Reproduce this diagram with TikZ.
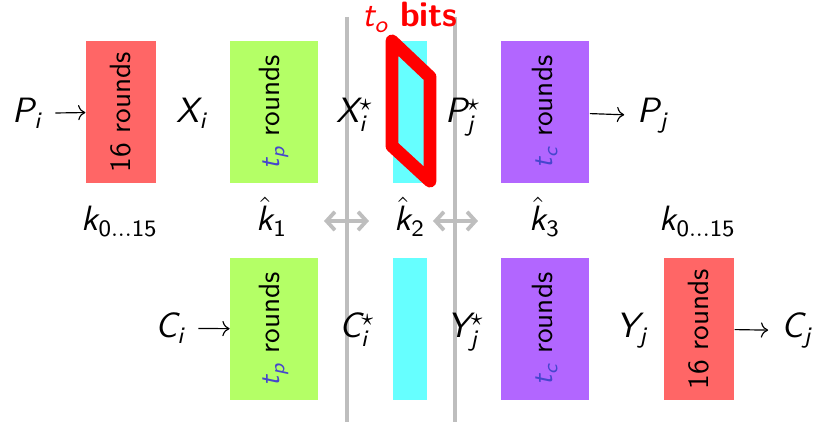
\documentclass[tikz,border=0pt]{standalone}
\usetikzlibrary{arrows.meta}

\DeclareMathAlphabet{\mathsl}{TU}{lmss}{m}{sl}
\DeclareMathAlphabet{\mathss}{TU}{lmss}{m}{n}

\definecolor{roundred}{RGB}{255,102,102}
\definecolor{roundgreen}{RGB}{180,255,102}
\definecolor{roundpurple}{RGB}{178,102,255}
\definecolor{midcyan}{RGB}{102,255,255}
\definecolor{tblue}{RGB}{70,70,205}
\definecolor{wallgray}{RGB}{190,190,190}

\begin{document}
\begin{tikzpicture}[x=0.012cm,y=-0.012cm,font=\sffamily\large,
	rbox/.style={rotate=90,inner sep=0pt,minimum width=1.70cm,minimum height=#1,font=\sffamily},
	lbl/.style={anchor=base,inner sep=4.5pt},
	wallarrow/.style={wallgray,line width=1.3pt,{Straight Barb[length=0.1cm,width=0.22cm]}-{Straight Barb[length=0.1cm,width=0.22cm]}}]
	\useasboundingbox (0,0) rectangle (813,422);

	% the two walls
	\draw[wallgray,line width=1.7pt] (347,17) -- (347,422);
	\draw[wallgray,line width=1.7pt] (455,17) -- (455,422);

	% upper row
	\node[rbox=0.84cm,fill=roundred] (r1) at (121,112) {16 rounds};
	\node[rbox=1.05cm,fill=roundgreen] (g1) at (274,112) {\textcolor{tblue}{$\mathsl{t}_{\mathsl{p}}$} rounds};
	\node[rbox=0.41cm,fill=midcyan] (c1) at (410,112) {};
	\node[rbox=1.06cm,fill=roundpurple] (v1) at (545,112) {\textcolor{tblue}{$\mathsl{t}_{\mathsl{c}}$} rounds};

	\draw[red,line width=4.4pt,line join=round] (392,41) -- (430,77) -- (430,181) -- (392,146) -- cycle;
	\node[anchor=base,inner sep=1pt,red] (bits) at (410,27) {$\mathsl{t}_{\mathsl{o}}$ \textbf{bits}};

	\node[lbl] (pi) at (27,123) {$\mathsl{P}_{\mathsl{i}}$};
	\node[lbl] (xi) at (192,123) {$\mathsl{X}_{\mathsl{i}}$};
	\node[lbl] (xis) at (355,123) {$\mathsl{X}_{\mathsl{i}}^{\star}$};
	\node[lbl] (pjs) at (463,123) {$\mathsl{P}_{\mathsl{j}}^{\star}$};
	\node[lbl] (pj) at (653,123) {$\mathsl{P}_{\mathsl{j}}$};
	\draw[->,thin] (pi) -- (r1);
	\draw[->,thin] (v1) -- (pj);

	% keys
	\node[lbl] (k0) at (120,231) {$\mathsl{k}_{\mathss{0\ldots15}}$};
	\node[lbl] (k1) at (272,231) {$\hat{\mathsl{k}}_{\mathss{1}}$};
	\node[lbl] (k2) at (410,231) {$\hat{\mathsl{k}}_{\mathss{2}}$};
	\node[lbl] (k3) at (545,231) {$\hat{\mathsl{k}}_{\mathss{3}}$};
	\node[lbl] (k4) at (698,231) {$\mathsl{k}_{\mathss{0\ldots15}}$};
	\coordinate (wl1) at (324,221);
	\coordinate (wl2) at (369,221);
	\coordinate (wr1) at (433,221);
	\coordinate (wr2) at (478,221);
	\draw[wallarrow] (wl1) -- (wl2);
	\draw[wallarrow] (wr1) -- (wr2);

	% lower row
	\node[rbox=1.05cm,fill=roundgreen] (g2) at (274,329) {\textcolor{tblue}{$\mathsl{t}_{\mathsl{p}}$} rounds};
	\node[rbox=0.41cm,fill=midcyan] (c2) at (410,329) {};
	\node[rbox=1.06cm,fill=roundpurple] (v2) at (545,329) {\textcolor{tblue}{$\mathsl{t}_{\mathsl{c}}$} rounds};
	\node[rbox=0.84cm,fill=roundred] (r2) at (699,329) {16 rounds};

	\node[lbl] (ci) at (170,338) {$\mathsl{C}_{\mathsl{i}}$};
	\node[lbl] (cis) at (357,338) {$\mathsl{C}_{\mathsl{i}}^{\star}$};
	\node[lbl] (yjs) at (466,338) {$\mathsl{Y}_{\mathsl{j}}^{\star}$};
	\node[lbl] (yj) at (632,338) {$\mathsl{Y}_{\mathsl{j}}$};
	\node[lbl] (cj) at (797,338) {$\mathsl{C}_{\mathsl{j}}$};
	\draw[->,thin] (ci) -- (g2);
	\draw[->,thin] (r2) -- (cj);
\end{tikzpicture}
\end{document}
